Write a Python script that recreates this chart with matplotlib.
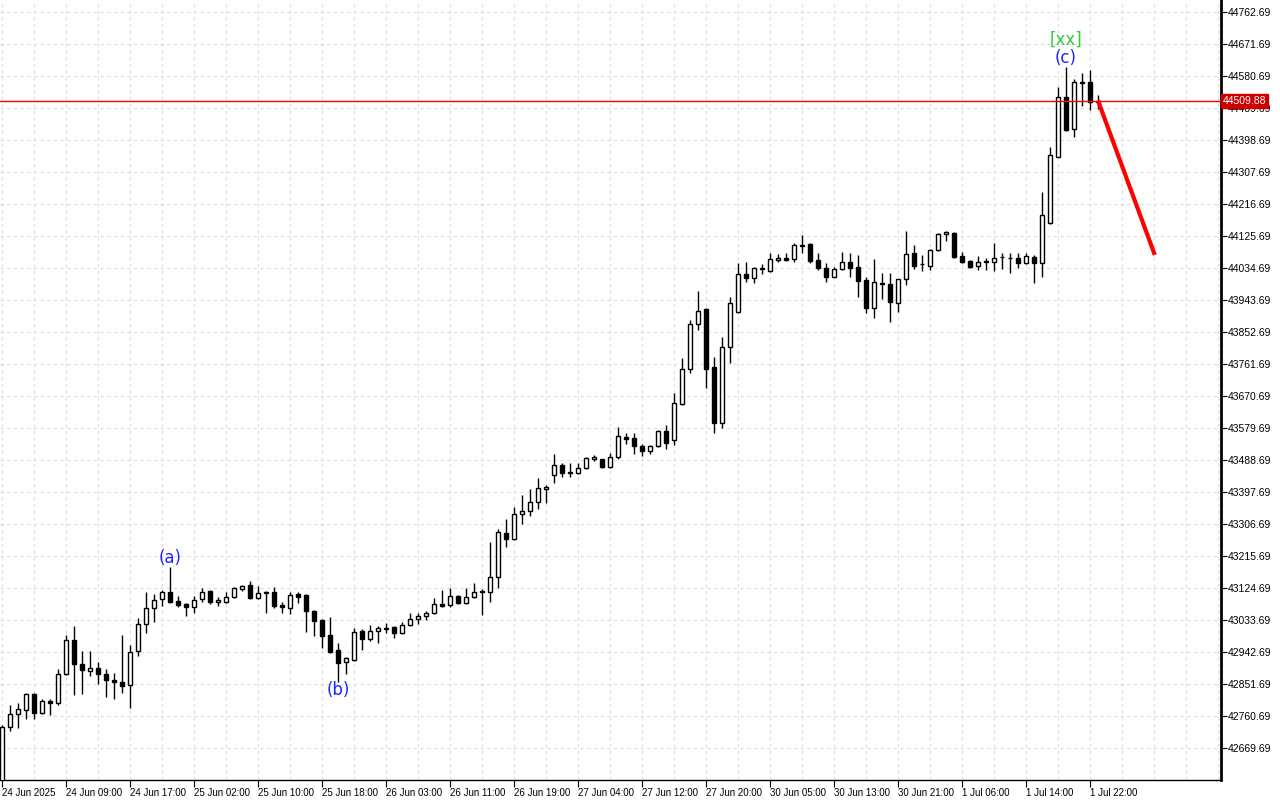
import matplotlib
matplotlib.use("Agg")
import matplotlib.pyplot as plt
import numpy as np

# hourly candles
opens = [42560, 42728, 42765, 42777, 42822, 42768, 42802, 42797, 42879, 42976,
         42908, 42888, 42896, 42879, 42862, 42856, 42848, 42945, 43021, 43067,
         43092, 43112, 43087, 43078, 43070, 43092, 43115, 43085, 43084, 43098,
         43121, 43132, 43095, 43110, 43112, 43075, 43067, 43107, 43104, 43058,
         43033, 42990, 42947, 42913, 42919, 43001, 42979, 43001, 43008, 43013,
         42996, 43019, 43036, 43044, 43053, 43078, 43075, 43101, 43081, 43098,
         43113, 43112, 43155, 43280, 43263, 43334, 43343, 43368, 43406, 43445,
         43474, 43455, 43451, 43465, 43492, 43490, 43468, 43496, 43553, 43550,
         43528, 43514, 43528, 43570, 43545, 43647, 43747, 43875, 43917, 43752,
         43593, 43809, 43909, 44016, 44005, 44032, 44025, 44058, 44061, 44059,
         44097, 44102, 44057, 44034, 44009, 44031, 44051, 44037, 43999, 43920,
         43992, 43988, 43934, 44003, 44076, 44044, 44040, 44085, 44130, 44133,
         44068, 44054, 44039, 44050, 44051, 44064, 44063, 44062, 44048, 44065,
         44048, 44162, 44350, 44520, 44429, 44563, 44562, 44506]
highs = [42735, 42791, 42797, 42825, 42825, 42808, 42808, 42893, 42990, 43016,
         42945, 42945, 42913, 42893, 42882, 42990, 42962, 43038, 43112, 43107,
         43118, 43184, 43101, 43080, 43101, 43124, 43118, 43098, 43112, 43127,
         43132, 43144, 43129, 43114, 43127, 43084, 43112, 43112, 43106, 43060,
         43035, 43041, 42967, 42927, 43010, 43007, 43019, 43016, 43025, 43015,
         43027, 43053, 43053, 43058, 43095, 43118, 43124, 43104, 43124, 43138,
         43120, 43254, 43292, 43320, 43354, 43388, 43405, 43437, 43418, 43505,
         43479, 43479, 43479, 43497, 43502, 43492, 43508, 43581, 43565, 43565,
         43533, 43531, 43573, 43587, 43678, 43778, 43886, 43968, 43919, 43781,
         43838, 43951, 44048, 44050, 44036, 44045, 44076, 44074, 44076, 44105,
         44128, 44104, 44076, 44048, 44037, 44079, 44076, 44071, 44008, 44059,
         44019, 44019, 44003, 44139, 44099, 44071, 44087, 44133, 44139, 44135,
         44079, 44056, 44068, 44062, 44105, 44076, 44076, 44076, 44076, 44071,
         44250, 44378, 44549, 44605, 44571, 44589, 44597, 44526]
lows = [42540, 42717, 42726, 42751, 42751, 42765, 42763, 42791, 42876, 42819,
        42822, 42873, 42851, 42814, 42808, 42825, 42782, 42930, 42996, 43027,
        43073, 43081, 43070, 43044, 43053, 43084, 43078, 43073, 43082, 43096,
        43115, 43092, 43092, 43053, 43067, 43053, 43050, 43081, 42999, 42987,
        42953, 42940, 42856, 42879, 42917, 42947, 42973, 42967, 42996, 42982,
        42994, 43017, 43021, 43033, 43050, 43071, 43071, 43078, 43079, 43095,
        43047, 43084, 43124, 43240, 43261, 43306, 43329, 43348, 43365, 43423,
        43440, 43440, 43448, 43462, 43485, 43466, 43466, 43490, 43533, 43505,
        43500, 43505, 43525, 43519, 43530, 43645, 43735, 43857, 43692, 43565,
        43579, 43764, 43905, 43994, 43992, 44016, 44023, 44051, 44054, 44052,
        44076, 44048, 44028, 43994, 44007, 44029, 44008, 43951, 43906, 43892,
        43946, 43880, 43909, 43986, 44031, 44025, 44028, 44083, 44111, 44062,
        44048, 44035, 44028, 44028, 44025, 44031, 44020, 44034, 44045, 43991,
        44008, 44160, 44349, 44424, 44407, 44494, 44483, 44486]
closes = [42728, 42765, 42780, 42822, 42768, 42802, 42798, 42879, 42976, 42907,
          42891, 42896, 42879, 42862, 42856, 42845, 42942, 43021, 43067, 43090,
          43112, 43084, 43075, 43070, 43090, 43112, 43084, 43090, 43098, 43124,
          43130, 43095, 43110, 43112, 43073, 43070, 43104, 43098, 43058, 43030,
          42987, 42942, 42910, 42925, 42999, 42979, 43001, 43010, 43011, 42996,
          43019, 43036, 43044, 43053, 43078, 43073, 43101, 43081, 43098, 43112,
          43116, 43155, 43283, 43263, 43334, 43343, 43368, 43408, 43410, 43474,
          43451, 43450, 43465, 43493, 43495, 43468, 43496, 43556, 43547, 43528,
          43514, 43528, 43570, 43535, 43650, 43747, 43875, 43912, 43747, 43593,
          43809, 43934, 44017, 44005, 44034, 44035, 44059, 44061, 44058, 44099,
          44100, 44054, 44034, 44009, 44031, 44051, 44034, 43997, 43920, 43994,
          43989, 43937, 44002, 44074, 44039, 44046, 44085, 44130, 44136, 44065,
          44051, 44037, 44051, 44053, 44062, 44066, 44061, 44048, 44068, 44048,
          44185, 44355, 44520, 44426, 44563, 44561, 44505, 44509.88]

time_labels = ["24 Jun 2025", "24 Jun 09:00", "24 Jun 17:00", "25 Jun 02:00",
               "25 Jun 10:00", "25 Jun 18:00", "26 Jun 03:00", "26 Jun 11:00",
               "26 Jun 19:00", "27 Jun 04:00", "27 Jun 12:00", "27 Jun 20:00",
               "30 Jun 05:00", "30 Jun 13:00", "30 Jun 21:00", "1 Jul 06:00",
               "1 Jul 14:00", "1 Jul 22:00"]

current_price = 44509.88
forecast_x = [137, 144.1]
forecast_y = [44509.88, 44071]

waves = ["(a)", "(b)", "(c)"]
wave_x = [21, 42, 133]
wave_y = [43209, 42834, 44631]

price_ticks = [42669.69 + 91 * k for k in range(24)]

fnt = ["Liberation Sans Narrow", "DejaVu Sans Condensed", "Liberation Sans"]

fig = plt.figure(figsize=(12.8, 8), dpi=100)
ax = fig.add_axes([0, 0.025, 1221 / 1280, 0.975])

o = np.array(opens)
h = np.array(highs)
l = np.array(lows)
c = np.array(closes)
x = np.arange(len(o))

# grid
for gx in range(0, 153, 4):
    ax.axvline(gx, color="#dddddd", lw=0.8, ls=(0, (3, 3)), zorder=0)
for gy in price_ticks:
    ax.axhline(gy, color="#dddddd", lw=0.8, ls=(0, (3, 3)), zorder=0)

# candles
ax.vlines(x, l, h, color="black", lw=1, zorder=2)
up = c >= o
bottom = np.minimum(o, c)
height = np.abs(c - o)
ax.bar(x, height, bottom=bottom, width=0.6, color=np.where(up, "white", "black"),
       edgecolor="black", linewidth=1, zorder=3)

ax.axhline(current_price, color="red", lw=1, zorder=4)
ax.plot(forecast_x, forecast_y, color="red", lw=3, solid_capstyle="butt", zorder=5)

for t, wx, wy in zip(waves, wave_x, wave_y):
    ax.text(wx, wy, t, color="#2222ff", fontsize=12, ha="center", va="center", zorder=6)
ax.text(wave_x[2], 44682, "[xx]", color="#33cc33", fontsize=12, ha="center", va="center", zorder=6)

ax.set_xlim(-0.25, 152.375)
ax.set_ylim(42577.8, 44796.0)

ax.set_xticks(np.arange(0, 8 * len(time_labels), 8))
ax.set_xticklabels(time_labels, ha="left", family=fnt, fontsize=7)
ax.tick_params(axis="x", length=5, pad=1, direction="out")

ax.yaxis.tick_right()
ax.set_yticks(price_ticks)
ax.set_yticklabels([f"{p:.2f}" for p in price_ticks], family=fnt, fontsize=7.5)
ax.tick_params(axis="y", length=4, pad=1, direction="out")

ax.text(1.0015, current_price, f"{current_price:.2f}", transform=ax.get_yaxis_transform(),
        color="white", fontsize=7.5, family=fnt, va="center", ha="left", zorder=10,
        bbox=dict(boxstyle="square,pad=0.2", fc="#cc0000", ec="#cc0000"), clip_on=False)

ax.spines["top"].set_visible(False)
ax.spines["left"].set_visible(False)
ax.spines["right"].set_linewidth(2)
ax.spines["bottom"].set_linewidth(1)

fig.savefig("out.png", dpi=100, facecolor="white")
